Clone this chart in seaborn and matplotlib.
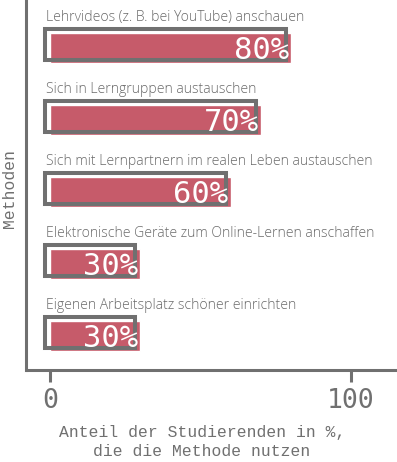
import matplotlib
matplotlib.use("Agg")
import matplotlib.pyplot as plt
import matplotlib.transforms as mtransforms
import seaborn as sns
import pandas as pd

categories = [
    "Lehrvideos (z. B. bei YouTube) anschauen",
    "Sich in Lerngruppen austauschen",
    "Sich mit Lernpartnern im realen Leben austauschen",
    "Elektronische Geräte zum Online-Lernen anschaffen",
    "Eigenen Arbeitsplatz schöner einrichten",
]
values = [80, 70, 60, 30, 30]
xticks = [0, 100]
xlabel = "Anteil der Studierenden in %,\ndie die Methode nutzen"
ylabel = "Methoden"

RED = "#C65B6A"
GREY = "#707070"
TXT = "#6A6A6A"
MONO = "Liberation Mono"
NUM = "DejaVu Sans Mono"

df = pd.DataFrame({"Methode": categories, "Anteil": values})

sns.set_theme(style="white")
plt.rcParams["font.family"] = ["Open Sans", "DejaVu Sans"]

fig = plt.figure(figsize=(3.97, 4.62), dpi=100)
ax = fig.add_axes([26.5 / 397, 92.5 / 462, 1 - 26.5 / 397, 369.5 / 462])

# filled bars
sns.barplot(data=df, x="Anteil", y="Methode", orient="h", color=RED,
            width=0.415, saturation=1, ax=ax, zorder=2)
n_fill = len(ax.patches)
# outline bars (sketch offset)
sns.barplot(data=df, x="Anteil", y="Methode", orient="h", fill=False,
            edgecolor=GREY, linewidth=2.9, width=0.43, ax=ax, zorder=3)
shift = mtransforms.ScaledTranslation(-5 / 100, 3.5 / 100, fig.dpi_scale_trans)
for p in ax.patches[n_fill:]:
    p.set_transform(ax.transData + shift)

ax.set_xlim(-7.8, 115.3)
ax.set_ylim(4.46, -0.666)

for i, (cat, v) in enumerate(zip(categories, values)):
    ax.annotate(cat, xy=(0, i), xytext=(-4, 31), textcoords="offset pixels",
                ha="left", va="center", fontsize=10.05, color=TXT,
                fontweight="light", family=["Open Sans", "DejaVu Sans"])
    ax.annotate(f"{v}%", xy=(v, i), xytext=(-2, -11), textcoords="offset pixels",
                ha="right", va="baseline", fontsize=22, color="white",
                family=[NUM, "DejaVu Sans"], zorder=5)

sns.despine(ax=ax, top=True, right=True)
for s in ["left", "bottom"]:
    ax.spines[s].set_color(GREY)
    ax.spines[s].set_linewidth(2.2)

ax.set_xticks(xticks)
ax.set_xticklabels([str(t) for t in xticks], fontsize=19, color=GREY,
                   family=[NUM, "DejaVu Sans"])
ax.tick_params(axis="x", length=8.6, width=2.2, color=GREY, pad=5, bottom=True)
ax.set_yticks([])

ax.set_xlabel(xlabel, fontsize=11.8, color=GREY, family=[MONO, "DejaVu Sans Mono"],
              linespacing=1.25)
ax.xaxis.label.set_va("center")
ax.xaxis.set_label_coords((202 - 26.5) / 370.5, (369.5 - 442) / 369.5)
ax.set_ylabel(ylabel, fontsize=11.8, color=GREY, family=[MONO, "DejaVu Sans Mono"])
ax.yaxis.label.set_va("center")
ax.yaxis.set_label_coords((10 - 26.5) / 370.5, (369.5 - 188) / 369.5)

fig.savefig("out.png", dpi=100)
